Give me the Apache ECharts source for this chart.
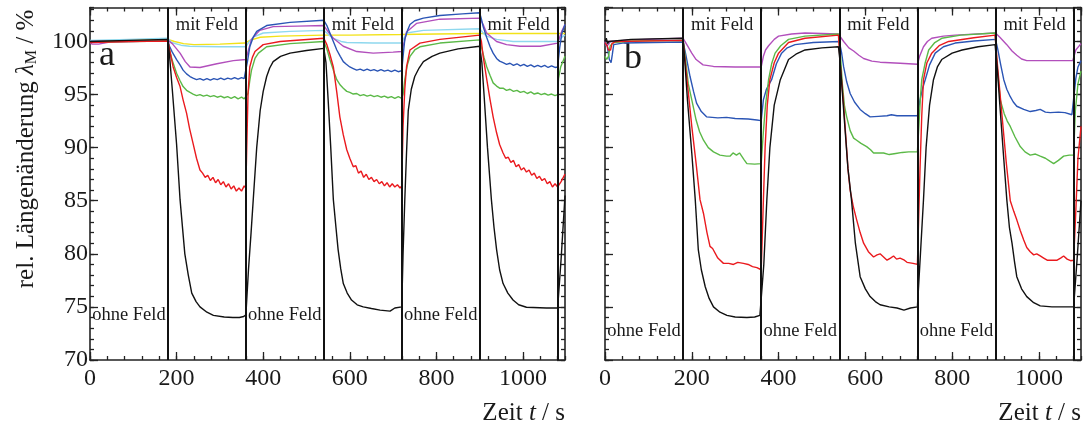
<!DOCTYPE html>
<html><head><meta charset="utf-8">
<script src="https://cdn.jsdelivr.net/npm/echarts@6.0.0/dist/echarts.min.js"></script>
<style>html,body{margin:0;padding:0;background:#fff}#c{width:1086px;height:428px}</style>
</head><body><div id="c"></div>
<script>
// ---------- data ----------
const switchTimes = [180, 360, 540, 720, 900, 1080];
const mitFeldTimes = [270, 630, 990];
const ohneFeldTimes = [90, 450, 810];
const panelLetters = ['a', 'b'];
const mitLabel = 'mit Feld';
const ohneLabel = 'ohne Feld';

// Panel a
const yellowL = [[0,100.0],[60,100.1],[120,100.15],[180,100.2],[195,100.0],[216,99.8],[240,99.7],[300,99.75],[358,99.85],[369,100.1],[393,100.4],[440,100.5],[539,100.6],[600,100.6],[716,100.65],[800,100.7],[900,100.75],[1000,100.75],[1097,100.75]];
const cyanL = [[0,100.1],[90,100.2],[180,100.3],[188,99.9],[210,99.65],[230,99.55],[300,99.5],[360,99.5],[366,99.9],[377,100.4],[400,100.8],[462,100.95],[540,101.05],[552,100.6],[562,100.3],[580,100.0],[593,99.9],[654,99.85],[720,99.85],[726,100.4],[731,100.8],[770,101.05],[900,101.2],[908,100.8],[916,100.5],[939,100.2],[977,100.0],[1080,100.0],[1090,100.4],[1097,100.6]];
const magentaL = [[0,99.9],[5,99.75],[20,99.75],[45,99.95],[100,100.0],[180,100.1],[190,99.8],[200,99.3],[208,98.9],[220,98.1],[231,97.6],[254,97.55],[293,97.9],[331,98.2],[360,98.3],[366,99.2],[373,100.2],[392,101.05],[423,101.4],[480,101.45],[540,101.5],[550,100.9],[562,100.3],[585,99.55],[616,99.05],[654,98.9],[700,99.0],[720,99.05],[726,100.0],[731,100.9],[754,101.7],[808,102.1],[900,102.2],[908,101.6],[916,100.8],[939,100.0],[962,99.7],[993,99.55],[1040,99.55],[1080,99.85],[1090,101.0],[1097,101.6]];
const blueL = [[0,100.0],[90,100.05],[180,100.1],[183,99.6],[190,99.0],[200,98.3],[208,97.8],[215,97.3],[223,96.95],[231,96.7],[238,96.55],[246,96.4],[254,96.5],[262,96.35],[270,96.5],[278,96.35],[286,96.5],[294,96.4],[302,96.55],[310,96.4],[318,96.55],[326,96.45],[334,96.6],[342,96.45],[350,96.6],[356,96.5],[360,96.6],[364,98.2],[369,99.5],[377,100.4],[385,100.95],[408,101.5],[462,101.8],[540,102.0],[547,101.5],[554,100.8],[562,100.0],[570,99.2],[578,98.6],[585,98.1],[592,97.85],[600,97.6],[608,97.45],[616,97.3],[624,97.4],[632,97.25],[640,97.4],[648,97.25],[656,97.35],[664,97.2],[672,97.35],[680,97.2],[688,97.3],[696,97.15],[704,97.3],[712,97.15],[720,97.25],[724,99.0],[727,100.2],[733,101.0],[739,101.6],[750,101.95],[770,102.2],[808,102.45],[860,102.6],[900,102.7],[904,102.1],[908,101.4],[916,100.4],[924,99.5],[931,98.9],[939,98.4],[946,98.15],[954,98.0],[962,97.85],[970,97.95],[978,97.75],[986,97.9],[994,97.7],[1002,97.85],[1010,97.65],[1018,97.8],[1026,97.6],[1034,97.75],[1042,97.6],[1050,97.75],[1058,97.55],[1066,97.7],[1074,97.55],[1080,97.6],[1085,99.5],[1090,100.8],[1097,101.6]];
const greenL = [[0,99.95],[90,100.0],[180,100.05],[183,99.3],[190,98.2],[200,97.0],[208,96.3],[215,95.75],[223,95.4],[231,95.2],[238,95.05],[246,94.9],[254,95.0],[262,94.85],[270,94.95],[278,94.8],[286,94.9],[294,94.75],[302,94.85],[310,94.7],[318,94.8],[326,94.65],[334,94.8],[342,94.6],[350,94.75],[356,94.6],[360,94.7],[365,95.1],[369,96.3],[373,97.3],[381,98.4],[389,98.9],[408,99.5],[462,99.8],[540,100.0],[547,99.3],[554,98.3],[562,97.3],[570,96.4],[578,95.9],[585,95.6],[593,95.3],[600,95.2],[608,95.05],[616,95.1],[624,94.9],[632,95.0],[640,94.85],[648,94.95],[656,94.8],[664,94.9],[672,94.75],[680,94.85],[688,94.7],[696,94.8],[704,94.65],[712,94.8],[720,94.65],[723,95.0],[727,96.4],[733,97.8],[739,98.6],[750,99.2],[762,99.5],[808,99.85],[900,100.15],[905,99.3],[910,98.5],[916,97.65],[924,96.8],[931,96.1],[939,95.8],[946,95.6],[954,95.6],[962,95.4],[970,95.5],[978,95.3],[986,95.4],[994,95.2],[1002,95.3],[1010,95.1],[1018,95.25],[1026,95.05],[1034,95.15],[1042,95.0],[1050,95.1],[1058,94.95],[1066,95.05],[1074,94.9],[1080,95.0],[1082,96.5],[1087,97.6],[1097,98.6]];
const redL = [[0,99.9],[90,100.0],[180,100.05],[185,99.0],[192,97.6],[200,96.6],[208,95.75],[215,94.5],[223,93.25],[230,91.8],[238,90.4],[246,89.0],[254,87.9],[260,87.6],[266,87.2],[272,87.4],[278,86.9],[284,87.2],[290,86.7],[296,87.0],[302,86.5],[308,86.8],[314,86.3],[320,86.6],[326,86.1],[332,86.4],[338,85.9],[344,86.2],[350,85.9],[356,86.4],[360,86.2],[362,90.0],[365,95.1],[369,97.6],[375,98.5],[381,99.05],[400,99.7],[439,100.0],[540,100.3],[547,99.7],[554,98.8],[562,97.6],[570,95.2],[577,92.9],[585,91.2],[593,89.8],[600,89.0],[608,88.2],[614,88.3],[620,87.6],[626,87.8],[632,87.2],[638,87.5],[644,87.0],[650,87.2],[656,86.8],[662,87.0],[668,86.6],[674,86.8],[680,86.4],[686,86.7],[692,86.3],[698,86.6],[704,86.3],[710,86.5],[716,86.2],[720,86.4],[723,92.0],[727,95.5],[731,97.6],[739,99.2],[762,99.85],[808,100.2],[900,100.6],[904,100.0],[908,98.6],[916,96.5],[924,94.5],[931,92.9],[939,91.4],[946,90.3],[954,89.5],[960,89.0],[966,89.1],[972,88.6],[978,88.8],[984,88.2],[990,88.4],[996,87.9],[1002,88.1],[1008,87.7],[1014,87.9],[1020,87.4],[1026,87.6],[1032,87.1],[1038,87.3],[1044,86.9],[1050,87.1],[1056,86.6],[1062,86.8],[1068,86.3],[1074,86.6],[1080,86.3],[1088,86.8],[1097,87.5]];
const blackL = [[0,100.0],[90,100.1],[180,100.2],[184,98.5],[190,95.5],[200,90.3],[208,85.1],[214,82.3],[219,80.0],[227,78.0],[235,76.3],[245,75.5],[254,75.0],[270,74.5],[285,74.2],[310,74.05],[330,74.0],[345,74.0],[355,74.1],[360,74.25],[366,78.5],[372,82.0],[377,85.1],[385,90.0],[393,93.5],[400,95.3],[408,96.7],[415,97.5],[423,98.1],[440,98.6],[462,98.9],[500,99.15],[540,99.35],[545,98.0],[550,94.5],[556,90.0],[562,85.1],[568,82.5],[573,80.4],[579,78.6],[585,77.2],[594,76.3],[604,75.65],[617,75.2],[631,75.0],[650,74.85],[670,74.7],[693,74.6],[704,74.9],[720,75.0],[723,80.0],[727,85.1],[731,89.5],[735,93.5],[742,95.5],[750,96.7],[760,97.5],[770,98.1],[790,98.6],[808,98.9],[850,99.3],[900,99.55],[905,98.0],[910,95.0],[918,90.0],[927,85.1],[933,82.5],[939,80.4],[946,78.5],[954,77.2],[965,76.3],[977,75.65],[990,75.2],[1008,74.97],[1054,74.9],[1080,74.9],[1088,79.5],[1097,85.5]];

// Panel b
const magentaR = [[0,100.0],[3,99.6],[8,99.7],[12,100.0],[60,100.15],[180,100.3],[190,99.6],[200,98.9],[210,98.3],[226,97.8],[250,97.65],[300,97.6],[360,97.6],[365,98.6],[370,99.2],[377,99.6],[390,100.2],[400,100.5],[430,100.7],[461,100.8],[538,100.7],[540,100.6],[550,100.0],[562,99.4],[573,99.1],[585,98.7],[596,98.4],[615,98.15],[634,98.05],[680,97.95],[720,97.85],[725,98.6],[734,99.5],[743,100.0],[753,100.3],[780,100.5],[807,100.6],[900,100.8],[910,100.4],[926,99.7],[938,99.1],[949,98.7],[960,98.35],[972,98.2],[1020,98.2],[1078,98.2],[1085,99.2],[1097,99.8]];
const blueR = [[0,99.9],[5,99.6],[10,98.3],[14,98.0],[17,98.8],[20,99.7],[40,99.85],[180,99.95],[186,98.8],[196,96.7],[204,95.3],[211,94.2],[222,93.4],[234,92.9],[260,92.8],[280,92.85],[300,92.75],[330,92.7],[350,92.6],[360,92.55],[365,94.5],[372,95.5],[384,96.4],[395,97.9],[407,98.9],[420,99.4],[438,99.7],[480,99.9],[540,100.0],[545,99.0],[550,97.6],[557,96.2],[565,95.1],[575,94.3],[588,93.6],[600,93.2],[611,92.9],[630,92.95],[650,93.0],[660,93.1],[673,93.0],[700,93.0],[720,93.0],[726,94.5],[732,95.6],[738,96.4],[748,97.8],[761,98.9],[780,99.5],[807,99.85],[850,100.05],[900,100.2],[905,99.3],[912,97.8],[919,96.4],[926,95.5],[934,94.8],[941,94.3],[949,93.9],[965,93.6],[980,93.4],[993,93.5],[1003,93.6],[1015,93.35],[1026,93.3],[1045,93.35],[1060,93.3],[1076,93.1],[1080,93.1],[1085,96.5],[1090,97.6],[1097,98.2]];
const greenR = [[0,98.6],[4,98.3],[8,98.6],[12,99.6],[20,99.9],[60,100.05],[180,100.1],[185,98.5],[192,96.0],[200,94.5],[210,92.6],[218,91.5],[227,90.7],[238,90.0],[250,89.6],[265,89.3],[280,89.2],[288,89.2],[295,89.5],[303,89.3],[310,89.5],[320,88.9],[327,88.5],[345,88.45],[360,88.5],[365,91.5],[370,94.0],[377,96.4],[384,97.9],[392,98.9],[405,99.6],[423,100.2],[461,100.5],[538,100.7],[543,98.5],[547,96.0],[552,93.9],[557,92.9],[565,91.6],[573,90.9],[580,90.7],[590,90.4],[603,90.1],[612,89.8],[619,89.5],[630,89.5],[642,89.5],[655,89.35],[670,89.45],[685,89.55],[700,89.6],[720,89.6],[724,92.5],[727,94.8],[730,96.4],[738,98.0],[746,99.2],[760,99.9],[776,100.3],[820,100.6],[899,100.8],[904,97.5],[911,94.5],[920,93.2],[927,92.5],[934,92.0],[945,91.0],[957,90.1],[968,89.6],[980,89.3],[992,89.4],[1003,89.2],[1015,89.0],[1026,88.7],[1034,88.5],[1045,88.8],[1057,89.2],[1070,89.3],[1080,89.3],[1084,93.5],[1090,96.0],[1097,97.2]];
const redR = [[0,99.9],[5,99.6],[8,99.2],[13,99.2],[16,99.8],[25,100.0],[180,100.1],[190,96.0],[200,92.0],[210,88.5],[219,85.1],[227,83.8],[235,82.0],[242,80.7],[248,80.5],[260,79.6],[273,79.1],[285,79.1],[296,79.0],[306,79.2],[319,79.1],[330,79.0],[340,78.8],[350,78.7],[360,78.5],[362,81.0],[365,85.0],[369,90.0],[374,94.0],[380,96.4],[390,98.0],[400,98.9],[423,99.9],[461,100.3],[538,100.6],[542,98.0],[550,94.0],[560,88.0],[565,86.0],[572,84.5],[580,83.2],[588,82.0],[596,81.0],[607,80.2],[619,79.7],[627,79.9],[634,80.0],[642,79.7],[650,79.4],[658,79.6],[665,79.8],[672,79.5],[680,79.6],[690,79.4],[696,79.2],[710,79.1],[720,79.0],[722,82.0],[726,88.0],[730,93.0],[734,96.4],[742,98.0],[753,98.9],[770,99.6],[792,100.0],[850,100.35],[899,100.6],[904,98.0],[915,93.0],[925,88.5],[934,85.0],[942,84.0],[949,83.2],[957,82.2],[965,81.3],[972,80.6],[980,80.2],[988,79.9],[995,80.0],[1003,79.8],[1011,79.6],[1019,79.4],[1030,79.4],[1042,79.4],[1050,79.6],[1057,79.8],[1065,79.5],[1073,79.35],[1080,79.4],[1085,84.0],[1090,89.0],[1097,92.0]];
const blackR = [[0,100.0],[3,100.3],[6,99.8],[9,100.0],[60,100.2],[180,100.3],[185,97.5],[190,94.5],[200,89.5],[208,85.1],[215,80.4],[222,78.5],[231,76.9],[240,75.8],[250,75.0],[265,74.5],[281,74.2],[300,74.05],[327,74.0],[345,74.05],[357,74.2],[360,74.3],[366,79.0],[373,85.1],[380,90.0],[390,94.0],[404,96.4],[423,98.3],[440,98.8],[461,99.2],[500,99.4],[538,99.5],[542,98.0],[550,93.5],[560,88.0],[568,85.1],[577,81.0],[588,77.85],[600,76.7],[611,75.97],[623,75.5],[634,75.2],[655,75.0],[673,74.9],[689,74.7],[704,74.9],[720,75.0],[727,80.0],[734,85.1],[740,90.0],[748,94.0],[757,96.4],[766,97.6],[776,98.3],[800,98.9],[823,99.2],[860,99.5],[899,99.7],[904,97.5],[910,94.0],[918,89.5],[926,85.1],[932,82.5],[938,81.0],[944,79.2],[949,77.85],[960,76.7],[972,75.97],[988,75.4],[1003,75.1],[1030,75.0],[1057,75.0],[1080,75.0],[1088,79.5],[1097,85.0]];

// ---------- chart ----------
const FONT = '"Liberation Serif", "Times New Roman", serif';
const INK = '#1a1a1a';
const XMIN = 0, XMAX = 1097, YMIN = 70, YMAX = 103.2;
const COLORS = {yellow:'#f2e218', cyan:'#8ed8ee', magenta:'#b24fbc', blue:'#2b55b5', green:'#5bb947', red:'#ea1a1e', black:'#111111'};

function xAx(g, pos, major) {
  return {
    type:'value', gridIndex:g, position:pos, min:XMIN, max:XMAX, interval: major ? 200 : 40,
    axisLine:{show:major, onZero:false, lineStyle:{color:'#222', width:1.6}},
    axisTick:{show:true, inside:true, length: major ? 8 : 4, lineStyle:{color:'#222', width:1.3}},
    axisLabel:{show: major && pos === 'bottom', fontFamily:FONT, fontSize:24, color:INK, margin:7,
      showMaxLabel:false, formatter: v => String(v)},
    splitLine:{show:false}
  };
}
function yAx(g, pos, major, labels) {
  return {
    type:'value', gridIndex:g, position:pos, min:YMIN, max:YMAX, interval: major ? 5 : 1,
    axisLine:{show:major, onZero:false, lineStyle:{color:'#222', width:1.6}},
    axisTick:{show:true, inside:true, length: major ? 8 : 4, lineStyle:{color:'#222', width:1.3}},
    axisLabel:{show: major && labels, fontFamily:FONT, fontSize:24, color:INK, margin:2,
      showMaxLabel:false, formatter: v => String(v)},
    splitLine:{show:false}
  };
}

const xAxes = [], yAxes = [];
[0,1].forEach(g => {
  xAxes.push(xAx(g,'bottom',true), xAx(g,'bottom',false), xAx(g,'top',true), xAx(g,'top',false));
  yAxes.push(yAx(g,'left',true,g===0), yAx(g,'left',false,false), yAx(g,'right',true,false), yAx(g,'right',false,false));
});

function lineSeries(data, color, g) {
  return {type:'line', data, xAxisIndex:g*4, yAxisIndex:g*4, showSymbol:false, symbol:'none',
    lineStyle:{color, width:1.4}, itemStyle:{color}, silent:true, z:3};
}
function labelSeries(times, yv, text, g) {
  return {type:'scatter', xAxisIndex:g*4, yAxisIndex:g*4, symbolSize:1, silent:true, z:6,
    itemStyle:{color:'#fff', opacity:0},
    data: times.map(t => [t, yv]),
    label:{show:true, position:'inside', formatter:text, fontFamily:FONT, fontSize:18.5,
      color:INK, opacity:1, textBorderWidth:0, textShadowBlur:0}};
}
function switchSeries(g) {
  return {type:'line', data:[], xAxisIndex:g*4, yAxisIndex:g*4, silent:true, z:5,
    markLine:{silent:true, symbol:['none','none'], animation:false, label:{show:false},
      lineStyle:{color:'#111', width:2, type:'solid'},
      data: switchTimes.map(t => ({xAxis:t}))}};
}

const series = [
  lineSeries(yellowL, COLORS.yellow, 0), lineSeries(cyanL, COLORS.cyan, 0), lineSeries(magentaL, COLORS.magenta, 0),
  lineSeries(blueL, COLORS.blue, 0), lineSeries(greenL, COLORS.green, 0), lineSeries(redL, COLORS.red, 0),
  lineSeries(blackL, COLORS.black, 0),
  lineSeries(magentaR, COLORS.magenta, 1), lineSeries(blueR, COLORS.blue, 1), lineSeries(greenR, COLORS.green, 1),
  lineSeries(redR, COLORS.red, 1), lineSeries(blackR, COLORS.black, 1),
  switchSeries(0), switchSeries(1),
  labelSeries(mitFeldTimes, 101.5, mitLabel, 0), labelSeries(ohneFeldTimes, 74.2, ohneLabel, 0),
  labelSeries(mitFeldTimes, 101.5, mitLabel, 1), labelSeries(ohneFeldTimes, 72.7, ohneLabel, 1)
];

const chart = echarts.init(document.getElementById('c'), null, {renderer:'canvas'});
chart.setOption({
  animation:false,
  backgroundColor:'#fff',
  grid:[{left:90, top:7.5, width:475, height:352.5}, {left:605, top:7.5, width:476, height:352.5}],
  xAxis:xAxes, yAxis:yAxes, series,
  graphic:[
    {type:'text', x:26, y:149, rotation:Math.PI/2, style:{
      text:'rel. Längenänderung {l|λ}{s|M} / %', fontFamily:FONT, fontSize:25, fill:INK,
      align:'center', verticalAlign:'middle',
      rich:{l:{fontStyle:'italic', fontFamily:FONT, fontSize:25, fill:INK},
            s:{fontFamily:FONT, fontSize:16, fill:INK, verticalAlign:'bottom', padding:[12,0,0,0]}}}},
    {type:'text', x:565, y:413, style:{text:'Zeit {i|t} / s', fontFamily:FONT, fontSize:25, fill:INK,
      align:'right', verticalAlign:'middle', rich:{i:{fontStyle:'italic', fontFamily:FONT, fontSize:25, fill:INK}}}},
    {type:'text', x:1081, y:413, style:{text:'Zeit {i|t} / s', fontFamily:FONT, fontSize:25, fill:INK,
      align:'right', verticalAlign:'middle', rich:{i:{fontStyle:'italic', fontFamily:FONT, fontSize:25, fill:INK}}}},
    {type:'text', x:99, y:56, style:{text:panelLetters[0], fontFamily:FONT, fontSize:36, fill:INK, align:'left', verticalAlign:'middle'}},
    {type:'text', x:624, y:59, style:{text:panelLetters[1], fontFamily:FONT, fontSize:36, fill:INK, align:'left', verticalAlign:'middle'}}
  ]
});
</script>
</body></html>
